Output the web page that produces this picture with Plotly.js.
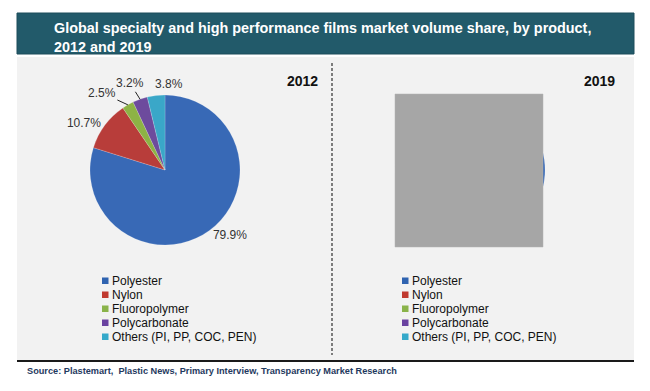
<!DOCTYPE html>
<html>
<head>
<meta charset="utf-8">
<script src="https://cdn.plot.ly/plotly-3.0.1.min.js"></script>
<style>html,body{margin:0;padding:0;background:#fff;}#chart{width:650px;height:391px;}</style>
</head>
<body>
<div id="chart"></div>
<script>
// ---- data ----
var categories = ["Polyester", "Nylon", "Fluoropolymer", "Polycarbonate", "Others (PI, PP, COC, PEN)"];
var share2012 = [79.9, 10.7, 2.5, 3.2, 3.8];
var share2019 = [78.0, 11.2, 2.8, 3.5, 4.5]; // hidden in the reference (covered), estimated
var years = ["2012", "2019"];
var sliceColors = ["#3869b6", "#b83d3a", "#8db345", "#6d4b9d", "#3aa7c8"];
var legendColors = ["#2f63b0", "#c0392f", "#8ab34a", "#6a42a0", "#35a9ca"];
var titleText = "Global specialty and high performance films market volume share, by product,<br>2012 and 2019";
var sourceText = "Source: Plastemart,\u00a0 Plastic News, Primary Interview, Transparency Market Research";

// ---- helpers for pixel placement ----
var W = 650, H = 391;
function px(x) { return x / W; }
function py(y) { return 1 - y / H; }
var font = "Arial, 'Liberation Sans', sans-serif";

// pie geometry (layout)
var pie1 = { cx: 165, cy: 170, r: 75 };
var pie2 = { cx: 470, cy: 170, r: 75 };

// large slices get Plotly's own outside labels; small ones get leader-line annotations
var bigThreshold = 10;
var tmpl2012 = share2012.map(function (v) { return v >= bigThreshold ? "%{value:.1f}%" : ""; });

var traces = [
  {
    type: "pie", labels: categories, values: share2012, sort: false,
    direction: "clockwise", rotation: 0,
    marker: { colors: sliceColors, line: { color: "rgba(255,255,255,0.35)", width: 0.5 } },
    texttemplate: tmpl2012, textposition: "outside",
    textfont: { family: font, size: 12, color: "#333333" },
    domain: { x: [px(pie1.cx - pie1.r), px(pie1.cx + pie1.r)], y: [py(pie1.cy + pie1.r), py(pie1.cy - pie1.r)] },
    showlegend: false, hoverinfo: "label+value"
  },
  {
    type: "pie", labels: categories, values: share2019, sort: false,
    direction: "clockwise", rotation: 0,
    marker: { colors: sliceColors, line: { color: "rgba(255,255,255,0.35)", width: 0.5 } },
    textinfo: "none",
    domain: { x: [px(pie2.cx - pie2.r), px(pie2.cx + pie2.r)], y: [py(pie2.cy + pie2.r), py(pie2.cy - pie2.r)] },
    showlegend: false, hoverinfo: "label+value"
  }
];

var shapes = [
  { type: "rect", xref: "paper", yref: "paper", x0: px(17), x1: px(634), y0: py(54), y1: py(13),
    fillcolor: "#225a6a", line: { color: "#1c4c5a", width: 1 }, layer: "below" },
  { type: "rect", xref: "paper", yref: "paper", x0: px(17), x1: px(634), y0: py(361), y1: py(57),
    fillcolor: "#f2f2f2", line: { width: 0 }, layer: "below" },
  { type: "line", xref: "paper", yref: "paper", x0: px(17), x1: px(634), y0: py(361), y1: py(361),
    line: { color: "#1a1a1a", width: 2 } },
  { type: "line", xref: "paper", yref: "paper", x0: px(332), x1: px(332), y0: py(63), y1: py(355),
    line: { color: "#555555", width: 1.5, dash: "3px,2px" } },
  { type: "rect", xref: "paper", yref: "paper", x0: px(395), x1: px(543), y0: py(247), y1: py(94),
    fillcolor: "#a6a6a6", line: { color: "#b0b0b0", width: 0.5 }, layer: "above" }
];

var annotations = [
  { text: "<b>" + years[0] + "</b>", xref: "paper", yref: "paper", x: px(320), y: py(81),
    xanchor: "right", yanchor: "middle", showarrow: false, font: { family: font, size: 14, color: "#111" } },
  { text: "<b>" + years[1] + "</b>", xref: "paper", yref: "paper", x: px(617), y: py(81),
    xanchor: "right", yanchor: "middle", showarrow: false, font: { family: font, size: 14, color: "#111" } },
  { text: "<b>" + sourceText + "</b>", xref: "paper", yref: "paper", x: px(25), y: py(371),
    xanchor: "left", yanchor: "middle", showarrow: false, font: { family: font, size: 9.2, color: "#1f3a60" } }
];

// small-slice labels: arrow tip on the slice edge at its mid-angle (from the data)
var labelOffsets = [null, null, [-26, -12, true], [-10, -16, true], [13, -12, false]];
var total = share2012.reduce(function (a, b) { return a + b; }, 0);
var cum = 0;
share2012.forEach(function (v, i) {
  var mid = (cum + v / 2) / total * 2 * Math.PI;
  cum += v;
  var off = labelOffsets[i];
  if (!off) return;
  var tx = pie1.cx + Math.sin(mid) * pie1.r;
  var ty = pie1.cy - Math.cos(mid) * pie1.r;
  annotations.push({
    text: v.toFixed(1) + "%", xref: "paper", yref: "paper", x: px(tx), y: py(ty),
    ax: off[0], ay: off[1], showarrow: true, arrowhead: 0, arrowwidth: 1,
    arrowcolor: off[2] ? "#222" : "rgba(0,0,0,0)", standoff: 0, startstandoff: 0,
    font: { family: font, size: 12, color: "#333333" }
  });
});

// legends (one per pie), built from the category list
var legendX = [[102, 110], [402, 410]];
var rowY0 = 281, rowStep = 14;
legendX.forEach(function (lx) {
  categories.forEach(function (c, i) {
    var yc = rowY0 + i * rowStep;
    shapes.push({ type: "rect", xref: "paper", yref: "paper",
      x0: px(lx[0]), x1: px(lx[0] + 6.5), y0: py(yc + 3), y1: py(yc - 3.5),
      fillcolor: legendColors[i], line: { width: 0 } });
    annotations.push({ text: c, xref: "paper", yref: "paper", x: px(lx[1]), y: py(yc),
      xanchor: "left", yanchor: "middle", showarrow: false,
      font: { family: font, size: 12, color: "#111" } });
  });
});

var layout = {
  width: W, height: H,
  margin: { l: 0, r: 0, t: 0, b: 0 },
  paper_bgcolor: "#ffffff", plot_bgcolor: "#ffffff",
  title: { text: titleText, xref: "container", yref: "container", x: px(54), xanchor: "left",
    y: py(33), yanchor: "middle", font: { family: font, size: 14.4, color: "#ffffff", weight: "bold" } },
  shapes: shapes, annotations: annotations,
  showlegend: false
};

Plotly.newPlot("chart", traces, layout, { displayModeBar: false, staticPlot: true });
</script>
</body>
</html>
